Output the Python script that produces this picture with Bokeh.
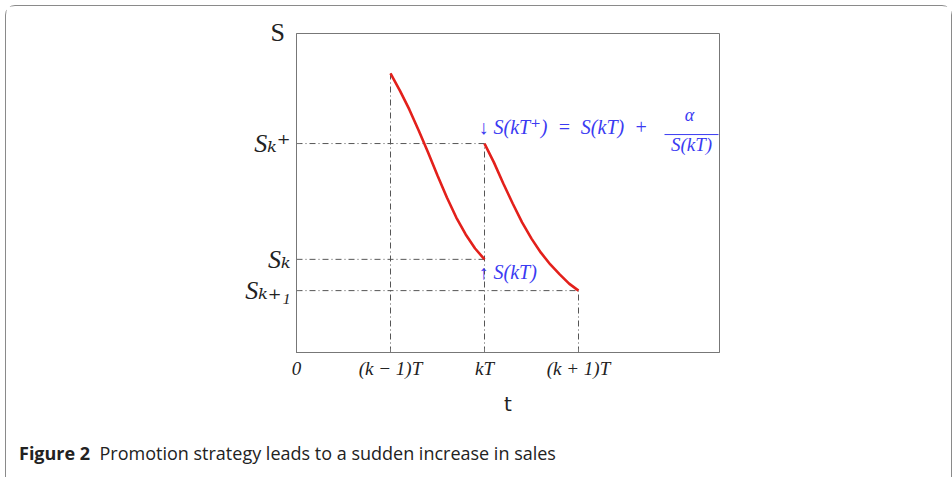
from bokeh.plotting import figure
from bokeh.models import Range1d, FixedTicker, LinearAxis, Label, Title, Div
from bokeh.layouts import column
from bokeh.embed import file_html
from bokeh.resources import INLINE

# Period boundaries (in units of T) and their labels
x_ticks = [0, 1, 2, 3]
x_tick_labels = ["0", "(k \u2212 1)T", "kT", "(k + 1)T"]

# Sales levels marked on the S axis
s_k_plus = 6.55
s_k = 2.92
s_k1 = 1.94
y_ticks = [s_k1, s_k, s_k_plus]
y_tick_labels = ["S\u2096\u208a\u2081", "S\u2096", "S\u2096\u207a"]

# Sales decay during period k-1 .. k
t_seg1 = [1.0, 1.1, 1.2, 1.3, 1.4, 1.5, 1.6, 1.7, 1.8, 1.9, 2.0]
s_seg1 = [8.75, 8.21, 7.62, 6.96, 6.27, 5.55, 4.86, 4.23, 3.70, 3.26, 2.92]

# Sales decay during period k .. k+1, after the promotion jump
t_seg2 = [2.0, 2.1, 2.2, 2.3, 2.4, 2.5, 2.6, 2.7, 2.8, 2.9, 3.0]
s_seg2 = [6.55, 5.96, 5.30, 4.67, 4.08, 3.57, 3.13, 2.76, 2.45, 2.16, 1.94]

caption_label = "Figure 2"
caption_text = "Promotion strategy leads to a sudden increase in sales"

MATH_FONT = "Liberation Serif, DejaVu Serif, serif"
BLUE = "#3b3bf2"
GRID = "#555555"

p = figure(width=945, height=420, output_backend="svg", toolbar_location=None,
           x_range=Range1d(0, 4.5), y_range=Range1d(0, 10),
           min_border_left=290, min_border_right=232,
           min_border_top=27, min_border_bottom=74,
           x_axis_location=None, y_axis_location=None)
p.grid.visible = False
p.outline_line_color = "#777777"
p.outline_line_width = 1
p.background_fill_color = "white"
p.border_fill_color = "white"

# Axis name "S" sits at the top-left corner of the frame
p.add_layout(Title(text="S", align="left", offset=-26, standoff=-27,
                   vertical_align="bottom", text_font=MATH_FONT,
                   text_font_style="normal", text_font_size="26px",
                   text_color="#222222"), "above")


def style_axis(ax, labels):
    ax.axis_line_color = "#777777"
    ax.major_tick_line_color = "#777777"
    ax.major_tick_in = 4
    ax.major_tick_out = 0
    ax.minor_tick_line_color = None
    ax.major_label_text_font = MATH_FONT
    ax.major_label_text_font_style = "italic"
    ax.major_label_text_color = "#222222"
    ax.major_label_overrides = labels


xb = LinearAxis(ticker=FixedTicker(ticks=x_ticks))
style_axis(xb, {t: l for t, l in zip(x_ticks, x_tick_labels)})
xb.major_label_text_font_size = "19px"
xb.major_label_standoff = 5
xb.axis_label = "t"
xb.axis_label_text_font = "DejaVu Sans"
xb.axis_label_text_font_style = "normal"
xb.axis_label_text_font_size = "20px"
xb.axis_label_text_color = "#222222"
xb.axis_label_standoff = 10
p.add_layout(xb, "below")

yl = LinearAxis(ticker=FixedTicker(ticks=y_ticks))
style_axis(yl, {t: l for t, l in zip(y_ticks, y_tick_labels)})
yl.major_label_text_font_size = "26px"
yl.major_label_standoff = 6
p.add_layout(yl, "left")

# Dash-dot guide lines to the axes
p.segment(x0=[0, 0, 0], y0=[s_k_plus, s_k, s_k1],
          x1=[t_seg2[0], t_seg1[-1], t_seg2[-1]], y1=[s_k_plus, s_k, s_k1],
          line_color=GRID, line_width=1, line_dash="6 3 1 3")
p.segment(x0=[t_seg1[0], t_seg1[-1], t_seg2[-1]], y0=[0, 0, 0],
          x1=[t_seg1[0], t_seg1[-1], t_seg2[-1]], y1=[s_seg1[0], s_seg2[0], s_seg2[-1]],
          line_color=GRID, line_width=1, line_dash="6 3 1 3")

# Sales curves
p.line(t_seg1, s_seg1, line_color="#e3201b", line_width=2.6)
p.line(t_seg2, s_seg2, line_color="#e3201b", line_width=2.6)

# Annotation of the jump after the promotion
jump_x = t_seg2[0]
jump_y = s_seg2[0]
p.add_layout(Label(x=jump_x, y=jump_y, x_offset=-6, y_offset=17,
                   text="\u2193 S(kT\u207a)\u2002=\u2002S(kT)\u2002+", text_font=MATH_FONT,
                   text_font_style="italic", text_font_size="20px", text_color=BLUE,
                   text_align="left", text_baseline="middle"))
p.add_layout(Label(x=jump_x, y=jump_y, x_offset=205, y_offset=19,
                   text="\u03b1", text_font=MATH_FONT, text_font_style="italic",
                   text_font_size="18px", text_color=BLUE,
                   text_align="center", text_baseline="bottom"))
p.add_layout(Label(x=jump_x, y=jump_y, x_offset=207, y_offset=-1,
                   text="S(kT)", text_font=MATH_FONT, text_font_style="italic",
                   text_font_size="19px", text_color=BLUE,
                   text_align="center", text_baseline="middle"))
p.segment(x0=[jump_x + 180 / 94], y0=[jump_y + 9 / 31.9],
          x1=[jump_x + 234 / 94], y1=[jump_y + 9 / 31.9],
          line_color=BLUE, line_width=1)

# Annotation of the level just before the jump
p.add_layout(Label(x=t_seg1[-1], y=s_seg1[-1], x_offset=-6, y_offset=-13,
                   text="\u2191 S(kT)", text_font=MATH_FONT,
                   text_font_style="italic", text_font_size="20px", text_color=BLUE,
                   text_align="left", text_baseline="middle"))

# Caption under the chart
cap = Div(text=f"<b>{caption_label}</b>&nbsp; {caption_text}", width=900, height=50,
          styles={"font-family": "'Open Sans', sans-serif", "font-size": "18px",
                  "color": "#222222", "padding-left": "8px", "padding-top": "10px"})

# Card with a rounded frame around chart and caption
layout = column(p, cap, styles={"border": "1.5px solid #8a8a8a",
                                "border-radius": "10px",
                                "margin-left": "5px", "margin-top": "5px"})

open("out.html", "w").write(file_html(layout, INLINE))
